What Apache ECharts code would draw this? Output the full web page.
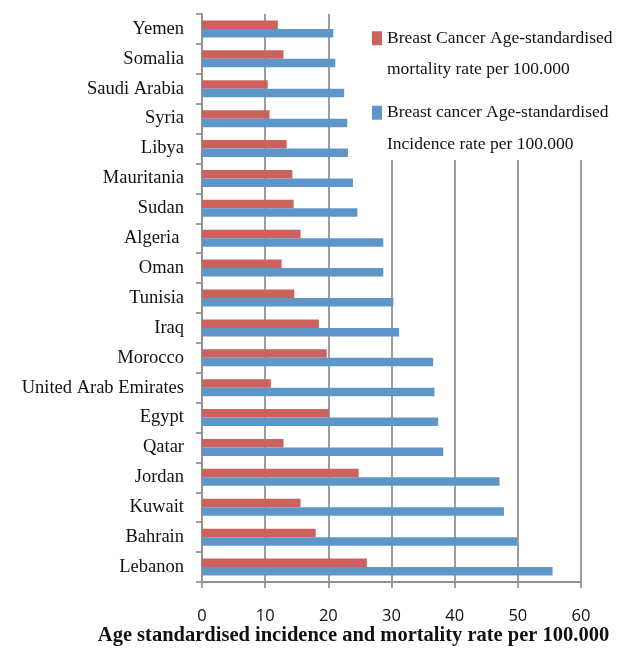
<!DOCTYPE html>
<html>
<head>
<meta charset="utf-8">
<script src="https://cdn.jsdelivr.net/npm/echarts@6/dist/echarts.min.js"></script>
<style>html,body{margin:0;padding:0;background:#fff}#c{width:622px;height:648px}</style>
</head>
<body>
<div id="c"></div>
<script>
var countries = ['Yemen','Somalia','Saudi Arabia','Syria','Libya','Mauritania','Sudan','Algeria ','Oman','Tunisia','Iraq','Morocco','United Arab Emirates','Egypt','Qatar','Jordan','Kuwait','Bahrain','Lebanon'];
var mortality = [12.0,12.9,10.4,10.7,13.4,14.3,14.5,15.6,12.6,14.6,18.5,19.75,10.9,20.1,12.9,24.8,15.6,18.0,26.1];
var incidence = [20.8,21.1,22.5,23.0,23.1,23.9,24.6,28.7,28.7,30.3,31.2,36.6,36.8,37.4,38.2,47.1,47.8,49.9,55.5];
var xTicks = [0,10,20,30,40,50,60];
var seriesNames = ['Breast Cancer Age-standardised\nmortality rate per 100.000','Breast cancer Age-standardised\nIncidence rate per 100.000'];
var axisTitle = 'Age standardised incidence and mortality rate per 100.000';

var grey = '#929292';
var chart = echarts.init(document.getElementById('c'));
chart.setOption({
  animation: false,
  backgroundColor: '#fff',
  grid: {left: 202, right: 41, top: 14, bottom: 66, containLabel: false, outerBoundsMode: 'none'},
  legend: {
    orient: 'vertical',
    left: 368,
    top: -9,
    itemWidth: 10,
    itemHeight: 14,
    itemGap: -20,
    padding: [0, 6, 0, 4],
    backgroundColor: '#fff',
    icon: 'rect',
    formatter: function (n) { return '\n' + n; },
    textStyle: {fontFamily: 'Liberation Serif', fontSize: 17.5, color: '#111', lineHeight: 31.5},
    data: seriesNames
  },
  xAxis: {
    type: 'value',
    min: xTicks[0], max: xTicks[xTicks.length - 1], interval: 10,
    axisLine: {show: true, lineStyle: {color: grey, width: 1.8}},
    axisTick: {show: true, length: 6, lineStyle: {color: grey, width: 1.8}},
    splitLine: {show: true, lineStyle: {color: grey, width: 1.8}},
    axisLabel: {fontFamily: 'Open Sans', fontSize: 16.5, color: '#111', margin: 26},
    name: axisTitle,
    nameLocation: 'middle',
    nameGap: 43,
    nameMoveOverlap: false,
    nameTextStyle: {fontFamily: 'Liberation Serif', fontWeight: 'bold', fontSize: 20.5, color: '#111', padding: [0, 76, 0, 0]}
  },
  yAxis: {
    type: 'category',
    inverse: true,
    data: countries,
    axisLine: {show: true, lineStyle: {color: grey, width: 1.8}},
    axisTick: {show: true, length: 6, lineStyle: {color: grey, width: 1.8}},
    axisLabel: {fontFamily: 'Liberation Serif', fontSize: 18.5, color: '#111', margin: 18, padding: [4, 0, 0, 0]}
  },
  series: [
    {name: seriesNames[0], type: 'bar', data: mortality, barWidth: 8.5, barGap: '0%',
     itemStyle: {color: '#CD625D'}},
    {name: seriesNames[1], type: 'bar', data: incidence, barWidth: 8.5, barGap: '0%',
     itemStyle: {color: '#5F96C9'}}
  ]
});
</script>
</body>
</html>
